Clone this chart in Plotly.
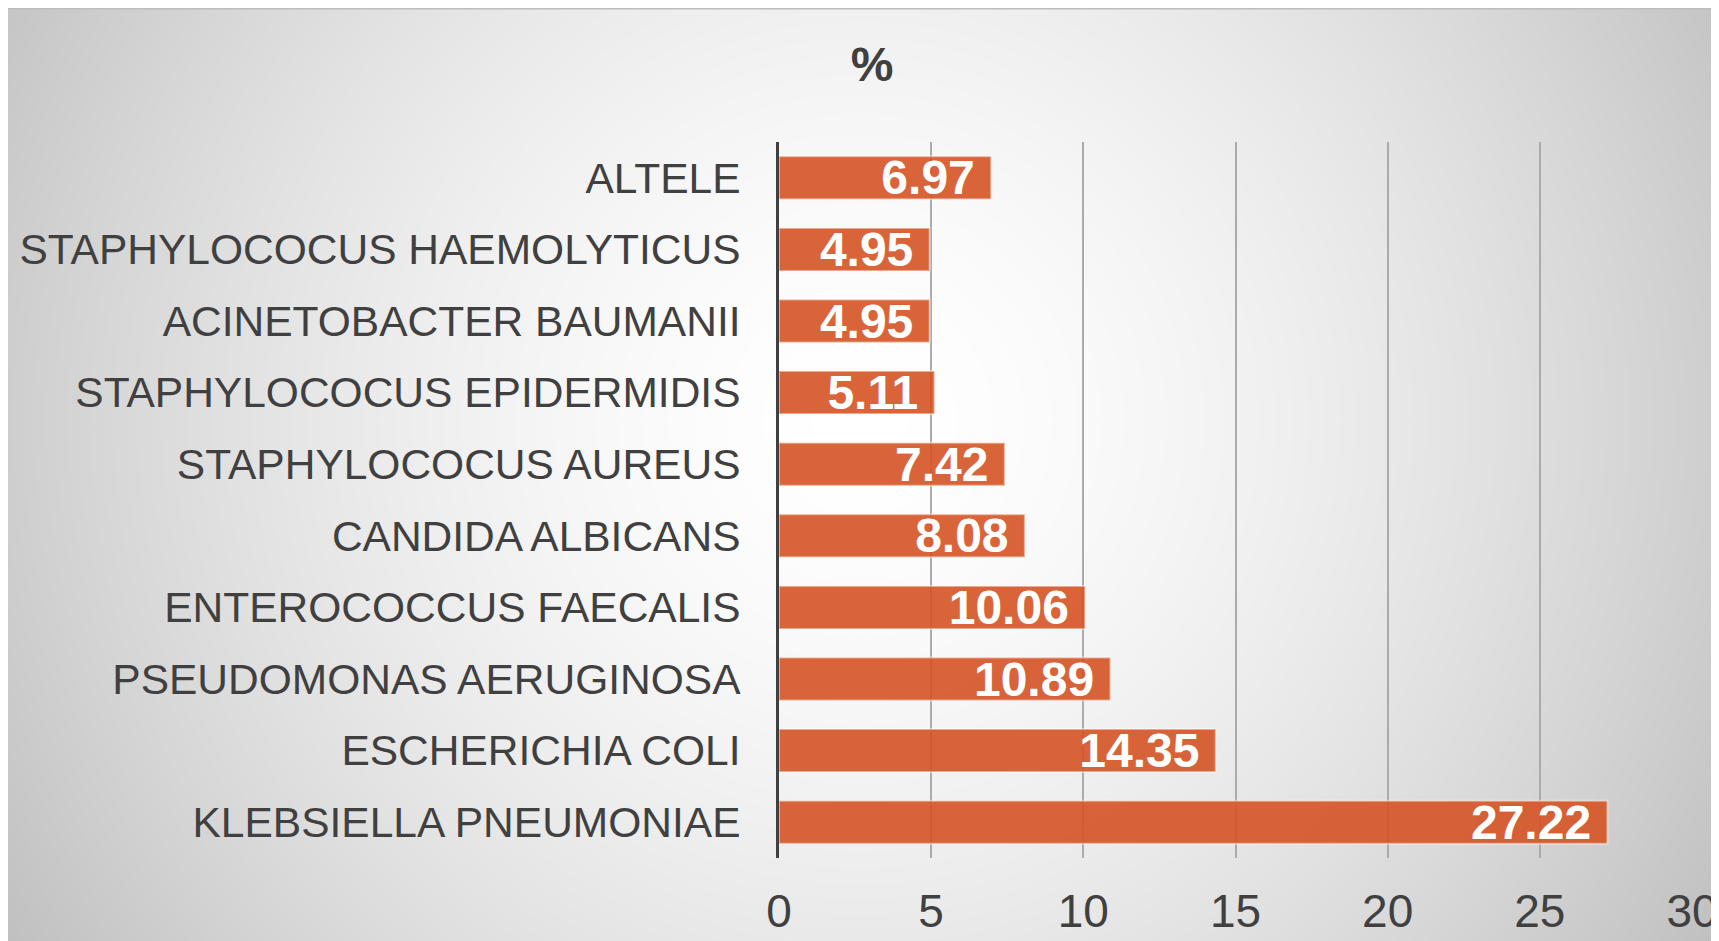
import plotly.graph_objects as go

# ---- data (bottom to top) ----
categories = [
    "KLEBSIELLA PNEUMONIAE",
    "ESCHERICHIA COLI",
    "PSEUDOMONAS AERUGINOSA",
    "ENTEROCOCCUS FAECALIS",
    "CANDIDA ALBICANS",
    "STAPHYLOCOCUS AUREUS",
    "STAPHYLOCOCUS EPIDERMIDIS",
    "ACINETOBACTER BAUMANII",
    "STAPHYLOCOCUS HAEMOLYTICUS",
    "ALTELE",
]
percent_values = [27.22, 14.35, 10.89, 10.06, 8.08, 7.42, 5.11, 4.95, 4.95, 6.97]
x_tick_values = [0, 5, 10, 15, 20, 25, 30]
chart_title = "%"

# ---- layout geometry (figure pixel coords) ----
W, H = 1719, 941
ML, MT = 771, 134
PW, PH = 913, 716
MR, MB = W - ML - PW, H - MT - PH
FONT = "Arial, 'Liberation Sans', sans-serif"
TXT = "#404040"


def px_x(px):
    return (px - ML) / PW


def px_y(py):
    return 1 - (py - MT) / PH


fig = go.Figure()
fig.add_trace(go.Bar(
    y=categories,
    x=percent_values,
    orientation="h",
    marker=dict(color="rgba(213,83,36,0.9)",
                line=dict(color="rgba(255,255,255,0.45)", width=2)),
    text=percent_values,
    texttemplate="%{x:.2f}\u00a0",
    textposition="inside",
    insidetextanchor="end",
    textangle=0,
    insidetextfont=dict(family=FONT, size=48, color="white", weight="bold"),
    hoverinfo="skip",
))

# ---- radial gradient background (styling only) ----
shapes = []
cx, cy = 852, 412
a = 1.0e-3
shapes.append(dict(type="rect", xref="paper", yref="paper", layer="below",
                   x0=px_x(0), x1=px_x(W), y0=px_y(H), y1=px_y(0),
                   fillcolor="rgb(192,192,192)", line=dict(width=0)))
for L in range(193, 256):
    r = ((255.5 - L) / a) ** (1 / 1.6)
    shapes.append(dict(type="circle", xref="paper", yref="paper", layer="below",
                       x0=px_x(cx - r), x1=px_x(cx + r),
                       y0=px_y(cy + r), y1=px_y(cy - r),
                       fillcolor=f"rgb({L},{L},{L})", line=dict(width=0)))
shapes.append(dict(type="line", xref="paper", yref="paper", layer="below",
                   x0=px_x(0), x1=px_x(W), y0=px_y(0.75), y1=px_y(0.75),
                   line=dict(color="#bdbdbd", width=1.5)))

fig.update_layout(
    width=W, height=H,
    margin=dict(l=ML, r=MR, t=MT, b=MB, pad=0, autoexpand=False),
    paper_bgcolor="white",
    plot_bgcolor="rgba(0,0,0,0)",
    shapes=shapes,
    showlegend=False,
    bargap=0.4,
    uniformtext=dict(minsize=48, mode="show"),
    title=dict(text=f"<b>{chart_title}</b>", x=864 / W, xref="container",
               xanchor="center", y=1 - 56 / H, yref="container", yanchor="middle",
               font=dict(family=FONT, size=48, color=TXT)),
    xaxis=dict(range=[0, 30], tickvals=x_tick_values, showgrid=True,
               gridcolor="#ababab", gridwidth=1.5, zeroline=False, showline=False,
               ticks="", ticklabelstandoff=22, automargin=False,
               tickfont=dict(family=FONT, size=46, color=TXT), fixedrange=True),
    yaxis=dict(showline=True, linecolor="#404040", linewidth=3, ticks="",
               showgrid=False, ticklabelstandoff=27, automargin=False,
               tickfont=dict(family=FONT, size=42.5, color=TXT), fixedrange=True),
)

fig.write_html("out.html")
